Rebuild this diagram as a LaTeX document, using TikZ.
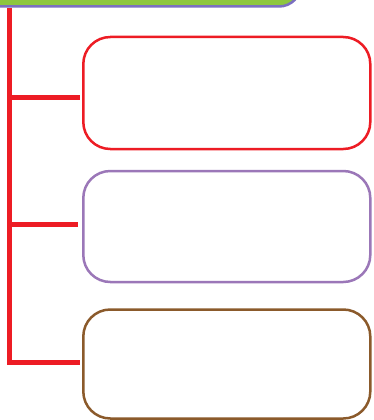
\documentclass[tikz,border=0pt]{standalone}
\definecolor{cred}{HTML}{ED1C24}
\definecolor{cpurple}{HTML}{9B77B8}
\definecolor{cbrown}{HTML}{8B5A2B}
\definecolor{cgreen}{HTML}{8DC63F}
\definecolor{cbarline}{HTML}{7B6FC0}
\begin{document}
\begin{tikzpicture}[x=1pt,y=-1pt,
  box/.style={draw,line width=2.5pt,rounded corners=27pt,minimum width=287pt,inner sep=0pt,fill=white},
  branch/.style={draw=cred,line width=5pt},
  bar/.style={fill=cgreen,draw=cbarline,line width=2.5pt,rounded corners=22pt}]
\useasboundingbox (0,0) rectangle (373,420);
\path[bar] (-20,-40) rectangle (301,6.5);
\node[box,draw=cred,minimum height=112pt] (b1) at (226.8,93) {};
\node[box,draw=cpurple,minimum height=111pt] (b2) at (226.8,226.5) {};
\node[box,draw=cbrown,minimum height=109pt] (b3) at (226.8,364) {};
\coordinate (top) at (9.3,8);
\coordinate (s1) at (9.3,97.5);
\coordinate (e1) at (80,97.5);
\coordinate (s2) at (9.3,224);
\coordinate (e2) at (77.5,224);
\coordinate (e3) at (80,362.5);
\path[branch] (top) |- (e3);
\path[branch] (s1) -- (e1);
\path[branch] (s2) -- (e2);
\end{tikzpicture}
\end{document}
